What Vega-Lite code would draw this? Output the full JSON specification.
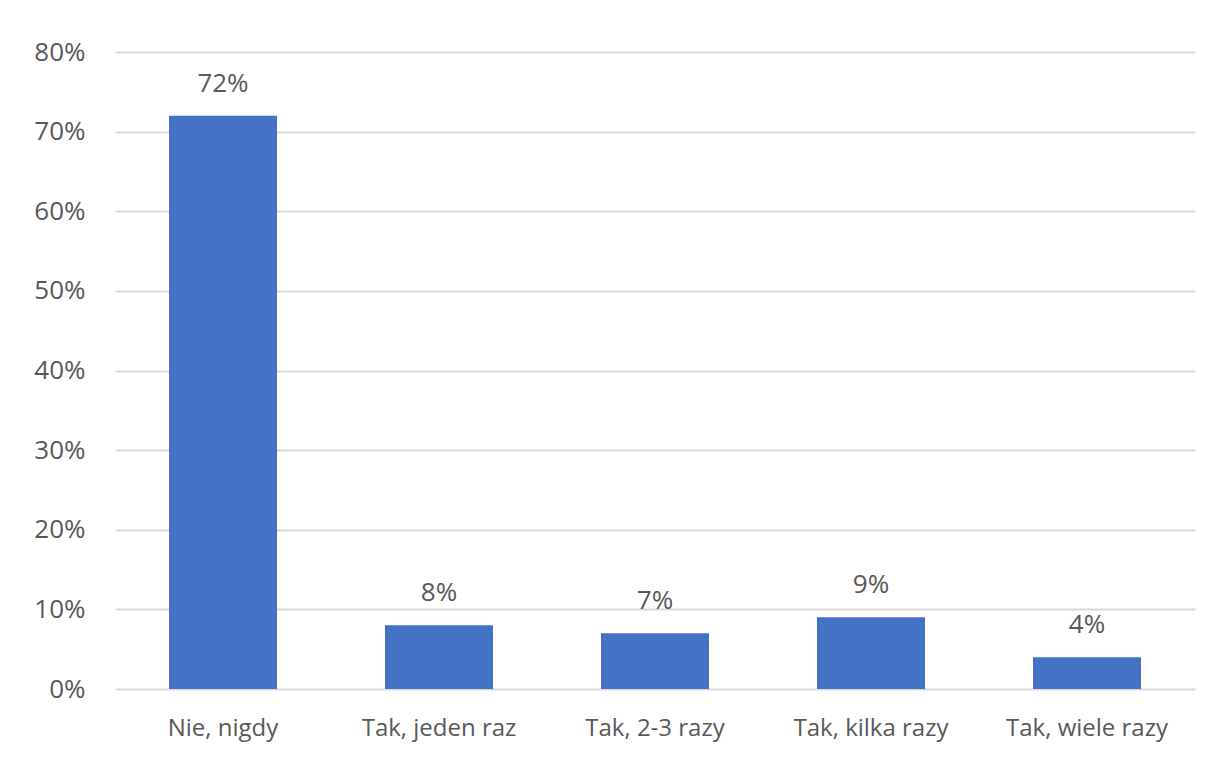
{
  "$schema": "https://vega.github.io/schema/vega-lite/v6.json",
  "width": 1080,
  "height": 637,
  "autosize": {"type": "none"},
  "padding": {"left": 115, "top": 52, "right": 27, "bottom": 69},
  "background": "white",
  "config": {
    "view": {"stroke": null},
    "font": "Open Sans"
  },
  "data": {
    "values": [
      {"kategoria": "Nie, nigdy", "wartosc": 0.72},
      {"kategoria": "Tak, jeden raz", "wartosc": 0.08},
      {"kategoria": "Tak, 2-3 razy", "wartosc": 0.07},
      {"kategoria": "Tak, kilka razy", "wartosc": 0.09},
      {"kategoria": "Tak, wiele razy", "wartosc": 0.04}
    ]
  },
  "encoding": {
    "x": {
      "field": "kategoria",
      "type": "nominal",
      "sort": null,
      "scale": {"paddingInner": 0.5, "paddingOuter": 0.25},
      "axis": {"title": null, "labelAngle": 0, "domain": false, "ticks": false, "labelPadding": 46, "labelBaseline": "alphabetic", "grid": false, "labelFont": "Open Sans", "labelFontSize": 24, "labelColor": "#595959"}
    },
    "y": {
      "field": "wartosc",
      "type": "quantitative",
      "scale": {"domain": [0, 0.8]},
      "axis": {"title": null, "format": ".0%", "values": [0, 0.1, 0.2, 0.3, 0.4, 0.5, 0.6, 0.7, 0.8], "domain": false, "ticks": false, "labelPadding": 30, "gridColor": "#d9d9d9", "gridWidth": 2, "labelFont": "Open Sans", "labelFontSize": 26, "labelColor": "#595959"}
    }
  },
  "layer": [
    {"mark": {"type": "bar", "color": "#4472C4"}},
    {
      "mark": {"type": "text", "baseline": "alphabetic", "dy": -24, "fontSize": 26, "color": "#595959", "font": "Open Sans"},
      "encoding": {"text": {"field": "wartosc", "type": "quantitative", "format": ".0%"}}
    }
  ]
}
